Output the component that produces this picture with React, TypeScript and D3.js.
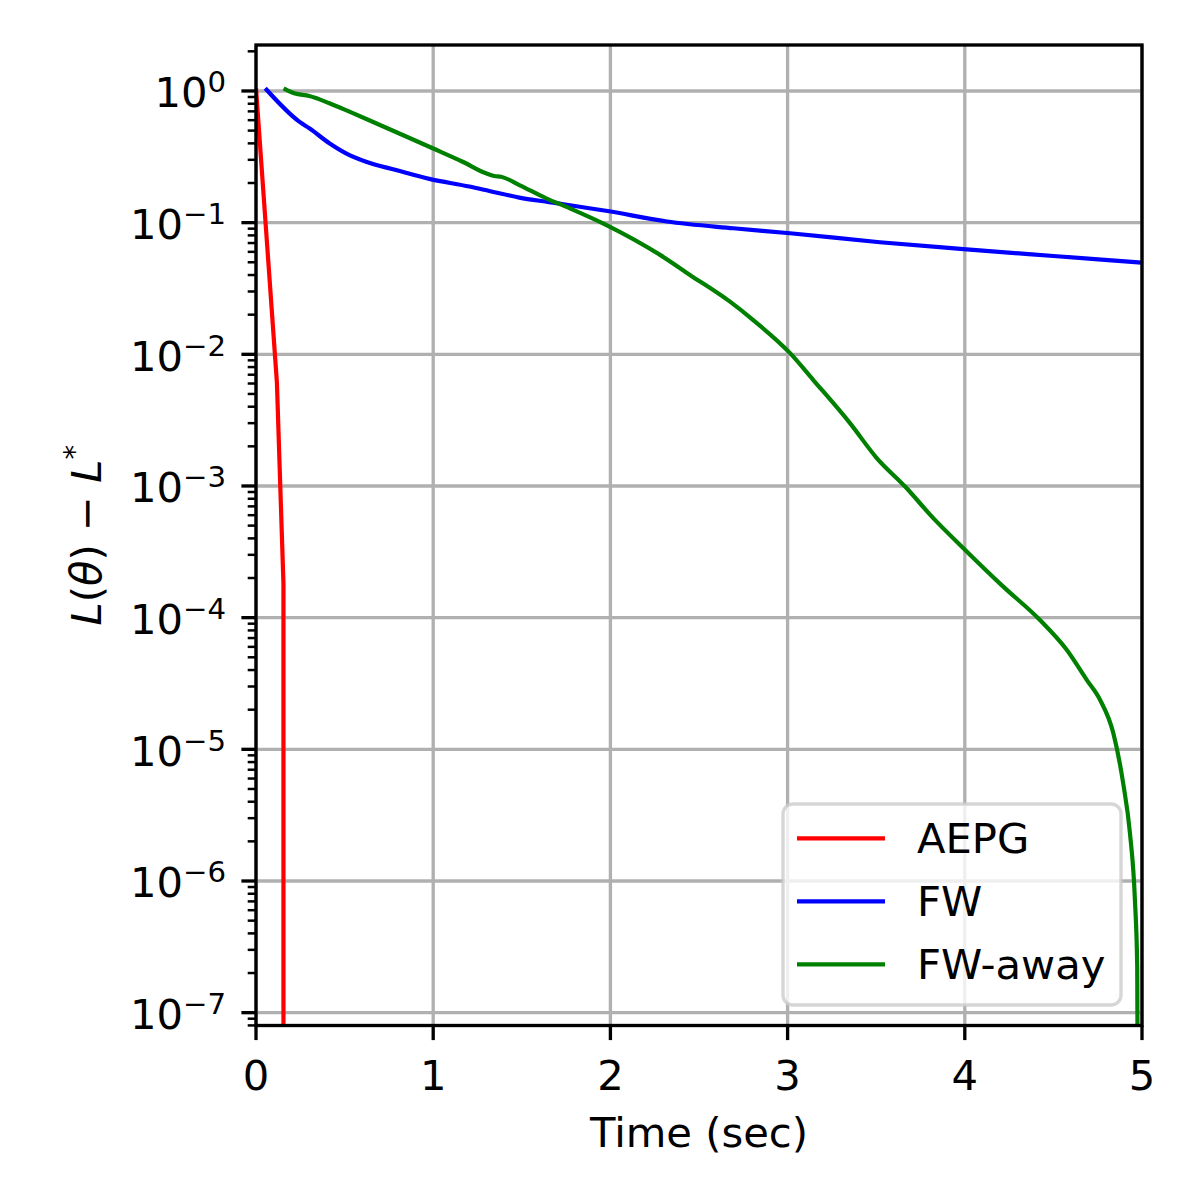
import { useEffect, useRef } from "react";
import * as d3 from "d3";

// AEPG
const aepgTime = [0, 0.118, 0.155, 0.155];
const aepgLoss = [1.05, 6.1e-3, 1.8e-4, 1e-12];

// FW
const fwTime = [0.052, 0.244, 0.301, 0.414, 0.508, 0.621, 0.79, 0.978, 1.204, 1.317, 1.486, 1.655, 1.975, 2.318, 2.694, 3.014, 3.521, 3.992, 4.5, 4.998];
const fwLoss = [1.048, 0.585, 0.521, 0.401, 0.336, 0.29, 0.251, 0.215, 0.188, 0.174, 0.155, 0.143, 0.123, 0.102, 0.0906, 0.0831, 0.071, 0.0629, 0.0558, 0.0497];

// FW-away
const fwAwayTime = [0.156, 0.216, 0.301, 0.414, 0.527, 0.677, 0.828, 0.997, 1.166, 1.298, 1.345, 1.383, 1.486, 1.637, 1.768, 1.975, 2.28, 2.449, 2.675, 2.806, 3.014, 3.145, 3.352, 3.503, 3.663, 3.822, 3.992, 4.217, 4.424, 4.575, 4.688, 4.763, 4.838, 4.894, 4.932, 4.96, 4.973, 4.98];
const fwAwayLoss = [1.048, 0.961, 0.916, 0.807, 0.697, 0.569, 0.463, 0.367, 0.29, 0.237, 0.226, 0.223, 0.193, 0.153, 0.129, 0.0962, 0.0569, 0.0401, 0.0251, 0.0182, 0.0102, 6.38e-3, 3.0e-3, 1.63e-3, 9.9e-4, 5.7e-4, 3.37e-4, 1.72e-4, 9.6e-5, 5.7e-5, 3.37e-5, 2.38e-5, 1.33e-5, 5.5e-6, 2.31e-6, 7.2e-7, 2.24e-7, 1e-9];

const seriesNames = ["AEPG", "FW", "FW-away"];
const seriesColors = ["#ff0000", "#0000ff", "#008000"];

const xTicks = [0, 1, 2, 3, 4, 5];
const yExponents = [0, -1, -2, -3, -4, -5, -6, -7];

export default function App() {
    const ref = useRef<SVGSVGElement>(null);

    useEffect(() => {
        const svg = d3.select(ref.current);
        svg.selectAll("*").remove();

        // layout (px)
        const left = 256;
        const right = 1142;
        const top = 45;
        const bottom = 1025.5;
        const font = "DejaVu Sans";
        const fs = 41.7;
        const lw = 3.33;

        const x_scale = d3.scaleLinear().domain([0, 5]).range([left, right]);
        const y_scale = d3.scaleLog().domain([7.99e-8, 2.234]).range([bottom, top]);

        svg.append("rect").attr("width", 1200).attr("height", 1200).attr("fill", "white");

        svg.append("clipPath").attr("id", "plot-clip")
            .append("rect")
            .attr("x", left).attr("y", top)
            .attr("width", right - left).attr("height", bottom - top);

        // grid
        const grid = svg.append("g").attr("stroke", "#b0b0b0").attr("stroke-width", lw);
        xTicks.forEach(t => {
            grid.append("line")
                .attr("x1", x_scale(t)).attr("x2", x_scale(t))
                .attr("y1", top).attr("y2", bottom);
        });
        yExponents.forEach(k => {
            grid.append("line")
                .attr("x1", left).attr("x2", right)
                .attr("y1", y_scale(Math.pow(10, k))).attr("y2", y_scale(Math.pow(10, k)));
        });

        // lines (AEPG has sharp corners, the others are smooth)
        const series = [
            { time: aepgTime, loss: aepgLoss, curve: d3.curveLinear },
            { time: fwTime, loss: fwLoss, curve: d3.curveMonotoneX },
            { time: fwAwayTime, loss: fwAwayLoss, curve: d3.curveMonotoneX },
        ];
        const plot = svg.append("g").attr("clip-path", "url(#plot-clip)");
        series.forEach((s, i) => {
            const pts = s.time.map((t, j) => [t, s.loss[j]] as [number, number]);
            const line = d3.line<[number, number]>()
                .x(d => x_scale(d[0]))
                .y(d => y_scale(d[1]))
                .curve(s.curve);
            plot.append("path")
                .attr("d", line(pts))
                .attr("fill", "none")
                .attr("stroke", seriesColors[i])
                .attr("stroke-width", 4.2)
                .attr("stroke-linejoin", "round")
                .attr("stroke-linecap", "butt");
        });

        // ticks
        const ticks = svg.append("g").attr("stroke", "black");
        xTicks.forEach(t => {
            ticks.append("line")
                .attr("x1", x_scale(t)).attr("x2", x_scale(t))
                .attr("y1", bottom).attr("y2", bottom + 14.6)
                .attr("stroke-width", lw);
        });
        yExponents.forEach(k => {
            ticks.append("line")
                .attr("x1", left - 14.6).attr("x2", left)
                .attr("y1", y_scale(Math.pow(10, k))).attr("y2", y_scale(Math.pow(10, k)))
                .attr("stroke-width", lw);
        });
        const [yMin, yMax] = y_scale.domain();
        for (let k = -8; k <= 0; k++) {
            for (let m = 2; m <= 9; m++) {
                const v = m * Math.pow(10, k);
                if (v < yMin || v > yMax) continue;
                ticks.append("line")
                    .attr("x1", left - 8.3).attr("x2", left)
                    .attr("y1", y_scale(v)).attr("y2", y_scale(v))
                    .attr("stroke-width", 2.5);
            }
        }

        // spines
        svg.append("rect")
            .attr("x", left).attr("y", top)
            .attr("width", right - left).attr("height", bottom - top)
            .attr("fill", "none")
            .attr("stroke", "black")
            .attr("stroke-width", lw);

        // tick labels
        xTicks.forEach(t => {
            svg.append("text")
                .attr("x", x_scale(t)).attr("y", 1090)
                .attr("text-anchor", "middle")
                .attr("font-family", font).attr("font-size", fs)
                .text(String(t));
        });
        yExponents.forEach(k => {
            const label = svg.append("text")
                .attr("x", 226).attr("y", y_scale(Math.pow(10, k)) + 16.5)
                .attr("text-anchor", "end")
                .attr("font-family", font).attr("font-size", fs);
            label.append("tspan").text("10");
            label.append("tspan")
                .attr("font-size", fs * 0.7)
                .attr("dy", -15)
                .text(k < 0 ? "\u2212" + (-k) : String(k));
        });

        // axis labels
        svg.append("text")
            .attr("x", (left + right) / 2).attr("y", 1147)
            .attr("text-anchor", "middle")
            .attr("font-family", font).attr("font-size", fs)
            .text("Time (sec)");

        const ylab = svg.append("text")
            .attr("transform", "translate(101," + (top + bottom) / 2 + ") rotate(-90)")
            .attr("text-anchor", "middle")
            .attr("font-family", font).attr("font-size", fs);
        ylab.append("tspan").attr("font-style", "italic").text("L");
        ylab.append("tspan").text("(");
        ylab.append("tspan").attr("font-style", "italic").text("θ");
        ylab.append("tspan").text(") \u2212 ");
        ylab.append("tspan").attr("font-style", "italic").text("L");
        ylab.append("tspan").attr("font-size", fs * 0.7).attr("dy", -17).text("*");

        // legend
        const legend = svg.append("g");
        legend.append("rect")
            .attr("x", 783).attr("y", 804)
            .attr("width", 338).attr("height", 201)
            .attr("rx", 10).attr("ry", 10)
            .attr("fill", "white").attr("fill-opacity", 0.8)
            .attr("stroke", "#cccccc").attr("stroke-opacity", 0.8)
            .attr("stroke-width", lw);
        seriesNames.forEach((name, i) => {
            const yy = 838.3 + i * 63;
            legend.append("line")
                .attr("x1", 797).attr("x2", 885)
                .attr("y1", yy).attr("y2", yy)
                .attr("stroke", seriesColors[i])
                .attr("stroke-width", 4.2);
            legend.append("text")
                .attr("x", 917).attr("y", yy + 15)
                .attr("font-family", font).attr("font-size", fs)
                .text(name);
        });
    }, []);

    return (
        <svg ref={ref} width={1200} height={1200}
            style={{ position: "absolute", left: 0, top: 0, display: "block" }} />
    );
}
